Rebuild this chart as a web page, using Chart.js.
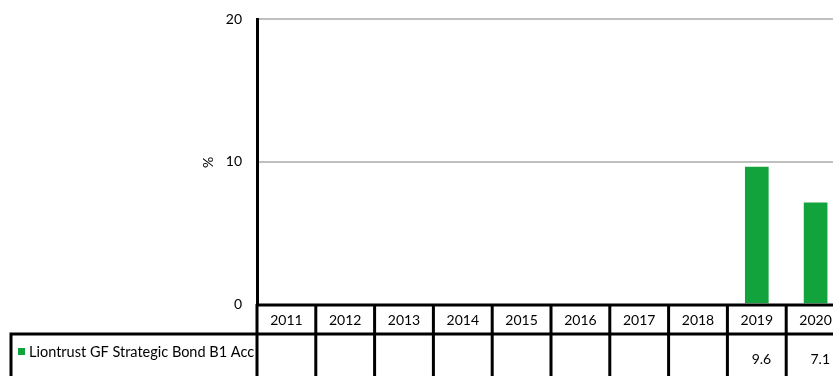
<!DOCTYPE html>
<html>
<head>
<meta charset="utf-8">
<title>Liontrust GF Strategic Bond B1 Acc</title>
<script src="https://cdn.jsdelivr.net/npm/chart.js"></script>
<style>
    html, body { margin: 0; padding: 0; background: #fff; overflow: hidden; }
    #wrap { width: 833px; height: 376px; overflow: hidden; }
</style>
</head>
<body>
<div id="wrap"><canvas id="myChart" width="860" height="376"></canvas></div>
<script>
    // chart data
    const years = ['2011', '2012', '2013', '2014', '2015', '2016', '2017', '2018', '2019', '2020'];
    const fundName = 'Liontrust GF Strategic Bond B1 Acc';
    const fundReturns = [null, null, null, null, null, null, null, null, 9.6, 7.1];
    const yTicks = [0, 10, 20];
    const yTitle = '%';

    const FONT = 'Lato, "Open Sans", sans-serif';
    const GREEN = '#12a33c';

    // data table under the plot (year header + value row)
    const tablePlugin = {
        id: 'dataTable',
        afterDraw(chart) {
            const ctx = chart.ctx;
            const x = chart.scales.x;
            const area = chart.chartArea;
            const colW = (area.right - area.left) / years.length;
            const top = area.bottom + 1;
            const mid = top + 29;
            const bottom = chart.height + 5;
            const legendLeft = 11;

            ctx.save();
            ctx.strokeStyle = '#000';
            ctx.lineWidth = 3;
            ctx.beginPath();
            ctx.moveTo(area.left, top); ctx.lineTo(area.right, top);
            ctx.moveTo(legendLeft - 1.5, mid); ctx.lineTo(area.right, mid);
            ctx.moveTo(legendLeft, mid); ctx.lineTo(legendLeft, bottom);
            for (let i = 0; i <= years.length; i++) {
                const cx = area.left + i * colW;
                ctx.moveTo(cx, area.bottom); ctx.lineTo(cx, bottom);
            }
            ctx.stroke();

            ctx.fillStyle = '#000';
            ctx.font = '14px ' + FONT;
            ctx.textBaseline = 'middle';
            years.forEach((yr, i) => {
                const cx = x.getPixelForValue(i);
                ctx.textAlign = 'center';
                ctx.fillText(yr, cx, (top + mid) / 2 + 1);
                const v = fundReturns[i];
                if (v != null) {
                    ctx.textAlign = 'right';
                    ctx.fillText(v.toFixed(1), cx + colW / 2 - 15, mid + 25);
                }
            });

            // legend cell
            ctx.beginPath();
            ctx.rect(legendLeft + 2, mid, area.left - legendLeft - 3, bottom - mid);
            ctx.clip();
            ctx.fillStyle = GREEN;
            ctx.fillRect(18, mid + 14, 7, 7);
            ctx.fillStyle = '#000';
            ctx.textAlign = 'left';
            ctx.font = '14.5px ' + FONT;
            ctx.fillText(fundName, 29, mid + 18);
            ctx.restore();

            // axis title
            ctx.save();
            ctx.translate(208, (area.top + area.bottom) / 2 + 1);
            ctx.rotate(-Math.PI / 2);
            ctx.fillStyle = '#000';
            ctx.font = '14px ' + FONT;
            ctx.textAlign = 'center';
            ctx.textBaseline = 'middle';
            ctx.fillText(yTitle, 0, 0);
            ctx.restore();
        }
    };

    const ctx = document.getElementById('myChart').getContext('2d');
    new Chart(ctx, {
        type: 'bar',
        data: {
            labels: years,
            datasets: [{
                label: fundName,
                data: fundReturns,
                backgroundColor: GREEN,
                borderWidth: 0,
                barThickness: 23
            }]
        },
        options: {
            responsive: false,
            animation: false,
            devicePixelRatio: 1,
            layout: { padding: { top: 19, bottom: 72, right: 15, left: 0 } },
            plugins: {
                legend: { display: false },
                tooltip: { enabled: false }
            },
            scales: {
                x: {
                    display: false
                },
                y: {
                    min: yTicks[0],
                    max: yTicks[yTicks.length - 1],
                    afterBuildTicks(scale) {
                        scale.ticks = yTicks.map(v => ({ value: v }));
                    },
                    afterFit(scale) {
                        scale.width = 257;
                        scale.paddingTop = 0;
                        scale.paddingBottom = 0;
                    },
                    border: { color: '#000', width: 3 },
                    grid: {
                        drawTicks: false,
                        lineWidth: 2,
                        color: c => c.tick.value === 0 ? 'rgba(0,0,0,0)' : '#bfbfbf'
                    },
                    ticks: {
                        padding: 15,
                        color: '#000',
                        font: { family: FONT, size: 14 }
                    }
                }
            }
        },
        plugins: [tablePlugin]
    });
</script>
</body>
</html>
